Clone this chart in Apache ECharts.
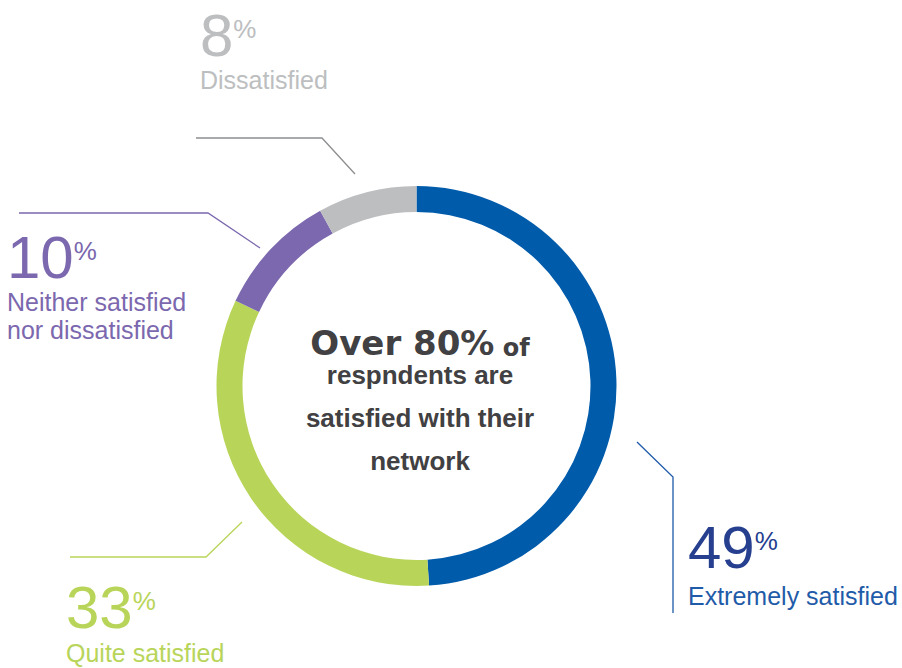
<!DOCTYPE html>
<html>
<head>
<meta charset="utf-8">
<script src="https://cdn.jsdelivr.net/npm/echarts@6/dist/echarts.min.js"></script>
<style>
  html, body { margin: 0; padding: 0; background: #ffffff; }
  #chart { width: 902px; height: 668px; }
</style>
</head>
<body>
<div id="chart"></div>
<script>
// Network satisfaction survey: share of respondents per answer (%)
const categories = ['Extremely satisfied', 'Quite satisfied', 'Neither satisfied\nnor dissatisfied', 'Dissatisfied'];
const shares = [49, 33, 10, 8];

// Headline in the middle of the ring
const headline = ['Over 80%', ' of'];
const sublines = ['respndents are', 'satisfied with their', 'network'];

// Colours per answer
const ringColors = ['#005bab', '#b8d55a', '#7b68ae', '#bcbec0'];
const numberColors = ['#263f8f', '#b8d55a', '#7b68ae', '#bcbec0'];
const nameColors = ['#1f5ba8', '#b8d55a', '#7b68ae', '#bcbec0'];
const leaderColors = ['#1f5ba8', '#b8d55a', '#7b68ae', '#8d8e90'];

// Callout placement: label box top-left corner, gap under the number, leader polyline
const calloutBoxes = [[688, 516], [66, 576], [7, 226], [200, 4]];
const nameLineHeights = [36, 30, 28, 28];
const leaderPaths = [
  [[637, 442], [673, 477], [673, 613]],
  [[242, 522], [206, 557], [70, 557]],
  [[260, 248], [208, 213], [19, 213]],
  [[355, 174], [322, 138], [196, 138]]
];

const LABEL_FONT = '"Liberation Sans", Arial, sans-serif';
const HEAD_FONT = '"DejaVu Sans", sans-serif';

function calloutRich(i) {
  return {
    num: { fontFamily: LABEL_FONT, fontSize: 60, lineHeight: 62, color: numberColors[i] },
    pct: { fontFamily: LABEL_FONT, fontSize: 26, lineHeight: 50, padding: [12, 0, 0, 0], verticalAlign: 'top', color: numberColors[i] },
    name: { fontFamily: LABEL_FONT, fontSize: 25, lineHeight: nameLineHeights[i], color: nameColors[i] }
  };
}

const chart = echarts.init(document.getElementById('chart'), null, { renderer: 'svg' });

const centerX = 420;
const centerTexts = [
  {
    type: 'text', x: centerX, y: 340,
    style: {
      text: '{a|' + headline[0] + '}{b|' + headline[1] + '}',
      align: 'center', textAlign: 'center', verticalAlign: 'middle', textVerticalAlign: 'middle',
      rich: {
        a: { fontFamily: HEAD_FONT, fontWeight: 'bold', fontSize: 34, lineHeight: 40, verticalAlign: 'bottom', fill: '#414042', color: '#414042' },
        b: { fontFamily: HEAD_FONT, fontWeight: 'bold', fontSize: 24, lineHeight: 33, verticalAlign: 'bottom', fill: '#414042', color: '#414042' }
      }
    }
  }
];
const sublineY = [375, 418, 461];
sublines.forEach(function (t, i) {
  centerTexts.push({
    type: 'text', x: centerX, y: sublineY[i],
    style: {
      text: t,
      align: 'center', textAlign: 'center', verticalAlign: 'middle', textVerticalAlign: 'middle',
      fontFamily: LABEL_FONT, fontWeight: 'bold', fontSize: 26, fill: '#414042'
    }
  });
});

chart.setOption({
  animation: false,
  backgroundColor: '#ffffff',
  graphic: centerTexts,
  series: [{
    type: 'pie',
    center: [416.5, 386],
    radius: [174, 200],
    startAngle: 90,
    clockwise: true,
    avoidLabelOverlap: false,
    silent: true,
    emphasis: { disabled: true },
    itemStyle: { borderWidth: 0 },
    label: {
      show: true,
      position: 'outside',
      formatter: function (p) {
        return '{num|' + p.value + '}{pct|%}\n{name|' + p.name + '}';
      }
    },
    labelLine: { show: true, length: 10, length2: 10, lineStyle: { width: 1.3 } },
    labelLayout: function (p) {
      const box = calloutBoxes[p.dataIndex];
      return {
        x: box[0], y: box[1], align: 'left', verticalAlign: 'top',
        labelLinePoints: leaderPaths[p.dataIndex]
      };
    },
    data: categories.map(function (name, i) {
      return {
        name: name,
        value: shares[i],
        itemStyle: { color: ringColors[i] },
        label: { rich: calloutRich(i) },
        labelLine: { lineStyle: { color: leaderColors[i], width: 1.3 } }
      };
    })
  }]
});
</script>
</body>
</html>
